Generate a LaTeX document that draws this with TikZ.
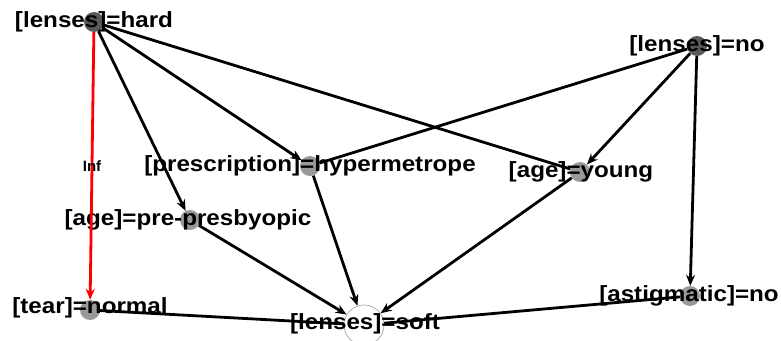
\documentclass[tikz,border=0pt]{standalone}
\usepackage{fontspec}
\setmainfont{Liberation Sans}
\usetikzlibrary{arrows.meta}

\begin{document}
\begin{tikzpicture}[x=1pt,y=-1pt,
  dark/.style={circle,fill=black!65,minimum size=20pt,inner sep=0pt},
  lite/.style={circle,fill=black!40,minimum size=20pt,inner sep=0pt},
  target/.style={circle,draw=black!35,line width=0.7pt,fill=white,minimum size=40pt,inner sep=0pt},
  lbl/.style={font=\fontsize{22}{22}\selectfont\bfseries,inner sep=0pt,xscale=1.1},
  edge/.style={line width=2.8pt},
  arr/.style={edge,-{Stealth[length=11pt,width=9pt]}}]
\useasboundingbox (0,0) rectangle (781,340);

% Items
\node[dark] (hard) at (94,22) {};
\node[dark] (no) at (697,46) {};
\node[lite] (hyper) at (310,166) {};
\node[lite] (young) at (580,172) {};
\node[lite] (prepres) at (190,220) {};
\node[lite] (tear) at (90,310) {};
\node[lite] (astig) at (690,296) {};
\node[target] (soft) at (364,325) {};

% Labels
\node[lbl] at (94,22) {[lenses]=hard};
\node[lbl] at (697,46) {[lenses]=no};
\node[lbl] at (310,166) {[prescription]=hypermetrope};
\node[lbl] at (581,172) {[age]=young};
\node[lbl] at (188,220) {[age]=pre-presbyopic};
\node[lbl] at (90,308) {[tear]=normal};
\node[lbl] at (689,296) {[astigmatic]=no};
\node[lbl] at (365,324) {[lenses]=soft};

% Rules
\draw[arr] (hard) -- (hyper);
\draw[arr] (hard) -- (prepres);
\draw[edge] (hard) -- (young);
\draw[arr,red] (hard) -- node[black,font=\fontsize{15}{15}\selectfont\bfseries] {Inf} (tear);
\draw[edge] (no) -- (hyper);
\draw[arr] (no) -- (young);
\draw[arr] (no) -- (astig);
\draw[arr] (hyper) -- (soft);
\draw[arr] (young) -- (soft);
\draw[arr] (prepres) -- (soft);
\draw[edge] (tear) -- (soft);
\draw[edge] (astig) -- (soft);
\end{tikzpicture}
\end{document}
